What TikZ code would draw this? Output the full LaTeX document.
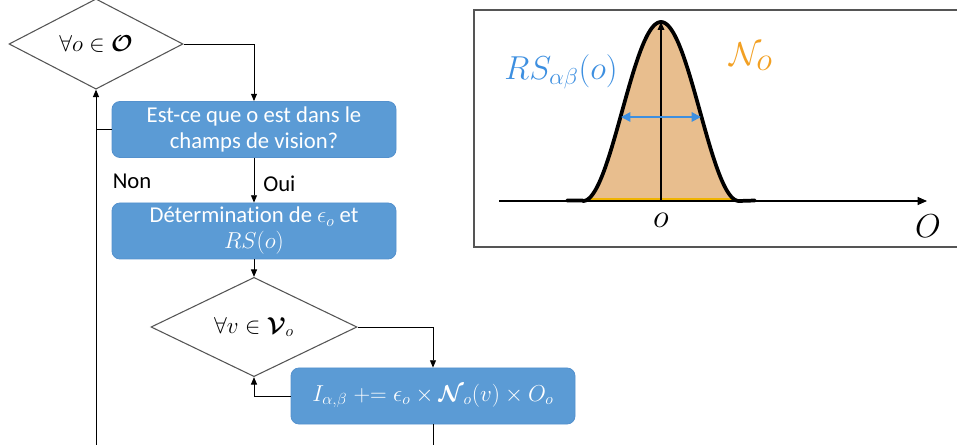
\documentclass[tikz,border=0pt]{standalone}
\usepackage{amsmath,amssymb,bm}
\usepackage{fontspec}
\setmainfont{Carlito}[Ligatures=NoCommon]
\usetikzlibrary{shapes.geometric,arrows.meta}
\definecolor{boxblue}{RGB}{91,155,213}
\definecolor{boxedge}{RGB}{84,145,205}
\definecolor{txtblue}{RGB}{61,143,224}
\definecolor{txtorange}{RGB}{242,160,35}
\definecolor{gfill}{RGB}{232,190,142}
\definecolor{gedge}{RGB}{240,180,0}
\definecolor{dgray}{RGB}{85,85,85}
\tikzset{
  decision/.style={diamond, draw=dgray, line width=0.8pt, fill=white, minimum width=#1, minimum height=50.25pt, inner sep=0pt, font=\fontsize{17}{20}\selectfont},
  procbox/.style={rectangle, rounded corners=6pt, draw=boxedge, line width=0.6pt, fill=boxblue, text=white, minimum width=213pt, minimum height=42pt, align=center, inner sep=2pt, font=\fontsize{17}{19.5}\selectfont},
  flow/.style={draw=black, line width=0.7pt, -{Triangle[length=5.5pt,width=4.5pt]}},
  plain/.style={draw=black, line width=0.7pt},
  lbl/.style={font=\fontsize{17}{20}\selectfont, inner sep=0pt}
}
\begin{document}
\begin{tikzpicture}[x=0.75pt,y=-0.75pt]
\useasboundingbox (0,0) rectangle (957,445);
% flowchart nodes
\node[decision=130.5pt] (d1) at (96,44) {$\forall o \in \bm{\mathcal{O}}$};
\node[procbox] (b1) at (254,129.5) {Est-ce que o est dans le\\champs de vision?};
\node[procbox] (b2) at (254,231) {Détermination de $\epsilon_o$ et\\$RS(o)$};
\node[decision=154.5pt] (d2) at (254,327) {$\forall v \in \bm{\mathcal{V}}_o$};
\node[procbox, font=\fontsize{17}{20}\selectfont] (b3) at (433,396) {$I_{\alpha,\beta} \mathrel{+}= \epsilon_o \times \bm{\mathcal{N}}_o(v) \times O_o$};
\node[lbl] (non) at (132,181) {Non};
\node[lbl, anchor=west] (oui) at (263,184) {Oui};
\coordinate (bl) at (96,445);
\coordinate (br) at (433,445);
% connectors
\draw[flow] (d1.east) -| (b1.north);
\draw[flow] (b1.south) -- (b2.north);
\draw[flow] (bl) -- (d1.south);
\draw[plain] (b1.west) -- (b1.west -| d1.south);
\draw[flow] (b2.south) -- (d2.north);
\draw[flow] (d2.east) -| (b3.north);
\draw[flow] (b3.west) -| (d2.south);
\draw[plain] (b3.south) -- (br);
% graph panel
\draw[draw=dgray, line width=1.1pt] (474,10) rectangle (965,247);
\fill[gfill] plot[domain=583:739, samples=90] (\x, {201 - 179*(1+cos(180*(\x-661)/78))/2}) -- cycle;
\draw[gedge, line width=1.6pt] (590,199.5) -- (732,199.5);
\coordinate (xa0) at (499,201);
\coordinate (xa1) at (927,201);
\coordinate (ya0) at (661,201);
\coordinate (ya1) at (661,22);
\draw[line width=0.8pt, -{Triangle[length=7pt,width=6pt]}] (xa0) -- (xa1);
\draw[line width=0.8pt, -{Triangle[length=6pt,width=5pt]}] (ya0) -- (ya1);
\draw[line width=2.8pt, line cap=round, line join=round] (567,200.5) -- (583,200.5) -- plot[domain=583:739, samples=120] (\x, {201 - 179*(1+cos(180*(\x-661)/78))/2}) -- (755,200.5);
\coordinate (ra) at (621,117);
\coordinate (rb) at (701,117);
\draw[txtblue, line width=1.4pt, {Triangle[length=7pt,width=7pt]}-{Triangle[length=7pt,width=7pt]}] (ra) -- (rb);
\node[text=txtblue, font=\fontsize{26}{30}\selectfont] (rs) at (561,72) {$RS_{\alpha\beta}(o)$};
\node[text=txtorange, font=\fontsize{34}{38}\selectfont] (no) at (751,57) {$\mathcal{N}_o$};
\node[font=\fontsize{24}{28}\selectfont] (lo) at (661,220) {$o$};
\node[font=\fontsize{26}{30}\selectfont] (lO) at (928,226) {$O$};
\end{tikzpicture}
\end{document}
